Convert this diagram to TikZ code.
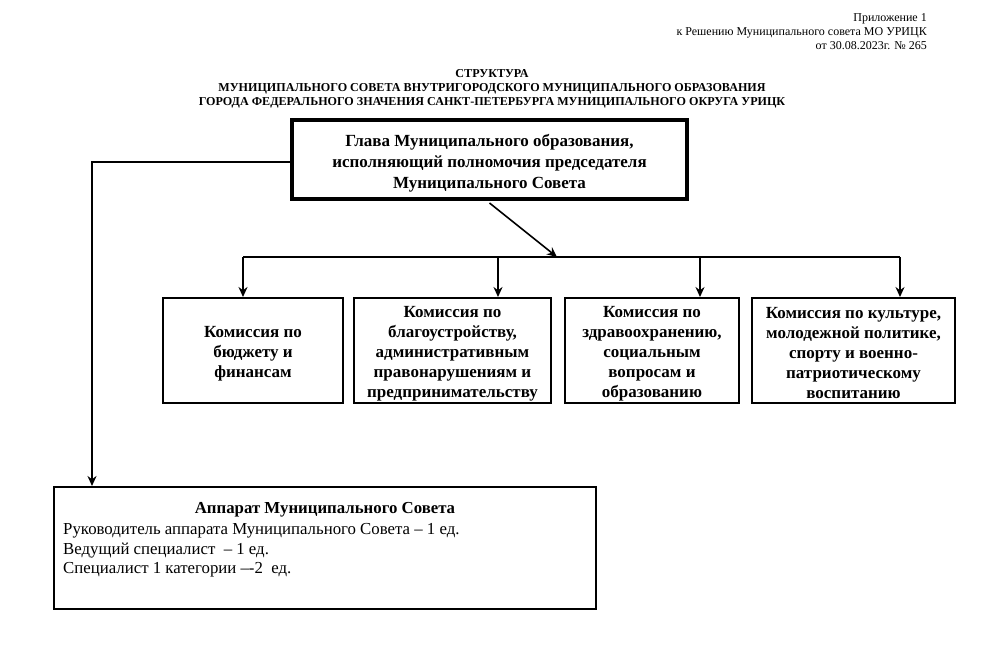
\documentclass[tikz,border=0pt]{standalone}
\usepackage{fontspec}
\setmainfont{Liberation Serif}
\usetikzlibrary{arrows.meta}
\begin{document}
\begin{tikzpicture}[x=1pt,y=-1pt,
  comm/.style={draw, line width=2pt, inner sep=0pt},
  commtxt/.style={font=\fontsize{17}{20}\selectfont\bfseries, align=center, inner sep=0pt},
  headbox/.style={draw, line width=4pt, inner sep=0pt},
  headtxt/.style={font=\fontsize{17}{21}\selectfont\bfseries, align=center, inner sep=0pt},
  appbox/.style={draw, line width=2pt, inner sep=0pt},
  conn/.style={line width=1.6pt},
  arr/.style={conn, -{Stealth[length=10pt,width=9pt]}},
  hdr/.style={font=\fontsize{12}{14}\selectfont, align=right, inner sep=0pt},
  ttl/.style={font=\fontsize{12.1}{14}\selectfont\bfseries, align=center, inner sep=0pt},
  apptxt/.style={font=\fontsize{16.8}{19.8}\selectfont, align=left, inner sep=0pt}
]
\useasboundingbox (0,0) rectangle (985,646);

\node[hdr, anchor=north east] (hdr) at (927,13) {Приложение 1\\к Решению Муниципального совета МО УРИЦК\\от 30.08.2023г. № 265};

\node[ttl] (ttl) at (492,89) {СТРУКТУРА\\МУНИЦИПАЛЬНОГО СОВЕТА ВНУТРИГОРОДСКОГО МУНИЦИПАЛЬНОГО ОБРАЗОВАНИЯ\\ГОРОДА ФЕДЕРАЛЬНОГО ЗНАЧЕНИЯ САНКТ-ПЕТЕРБУРГА МУНИЦИПАЛЬНОГО ОКРУГА УРИЦК};

\node[headbox, minimum width=395, minimum height=79] (head) at (489.5,159.5) {};
\node[headtxt] (headt) at (489.5,163) {Глава Муниципального образования,\\исполняющий полномочия председателя\\Муниципального Совета};

\node[comm, minimum width=180, minimum height=105] (c1) at (253,350.5) {};
\node[comm, minimum width=197, minimum height=105] (c2) at (452.5,350.5) {};
\node[comm, minimum width=174, minimum height=105] (c3) at (652,350.5) {};
\node[comm, minimum width=203, minimum height=105] (c4) at (853.5,350.5) {};
\node[commtxt] (c1t) at (253,354) {Комиссия по\\бюджету и\\финансам};
\node[commtxt] (c2t) at (452.5,353.5) {Комиссия по\\благоустройству,\\административным\\правонарушениям и\\предпринимательству};
\node[commtxt] (c3t) at (652,353.5) {Комиссия по\\здравоохранению,\\социальным\\вопросам и\\образованию};
\node[commtxt] (c4t) at (853.5,353.5) {Комиссия по культуре,\\молодежной политике,\\спорту и военно-\\патриотическому\\воспитанию};

\node[appbox, minimum width=542, minimum height=122] (app) at (325,548) {};
\node[font=\fontsize{16.8}{19.5}\selectfont\bfseries, inner sep=0pt] (apptitle) at (325,510) {Аппарат Муниципального Совета};
\node[apptxt, anchor=north west] (applist) at (63,523) {Руководитель аппарата Муниципального Совета – 1 ед.\\Ведущий специалист~~– 1 ед.\\Специалист 1 категории –-2~~ед.};

% connectors
\coordinate (bus) at (557,257);
\coordinate (b1) at (243,257);
\coordinate (b2) at (498,257);
\coordinate (b3) at (700,257);
\coordinate (b4) at (900,257);
\coordinate (corner) at (92,162);

\draw[arr] (head.south) ++(0,2) coordinate (hs) (hs) -- (bus);
\draw[conn] (b1) -- (b4);
\draw[arr] (b1) -- (b1 |- c1.north);
\draw[arr] (b2) -- (b2 |- c2.north);
\draw[arr] (b3) -- (b3 |- c3.north);
\draw[arr] (b4) -- (b4 |- c4.north);
\draw[arr] (head.west |- corner) -- (corner) -- (corner |- app.north);
\end{tikzpicture}
\end{document}
